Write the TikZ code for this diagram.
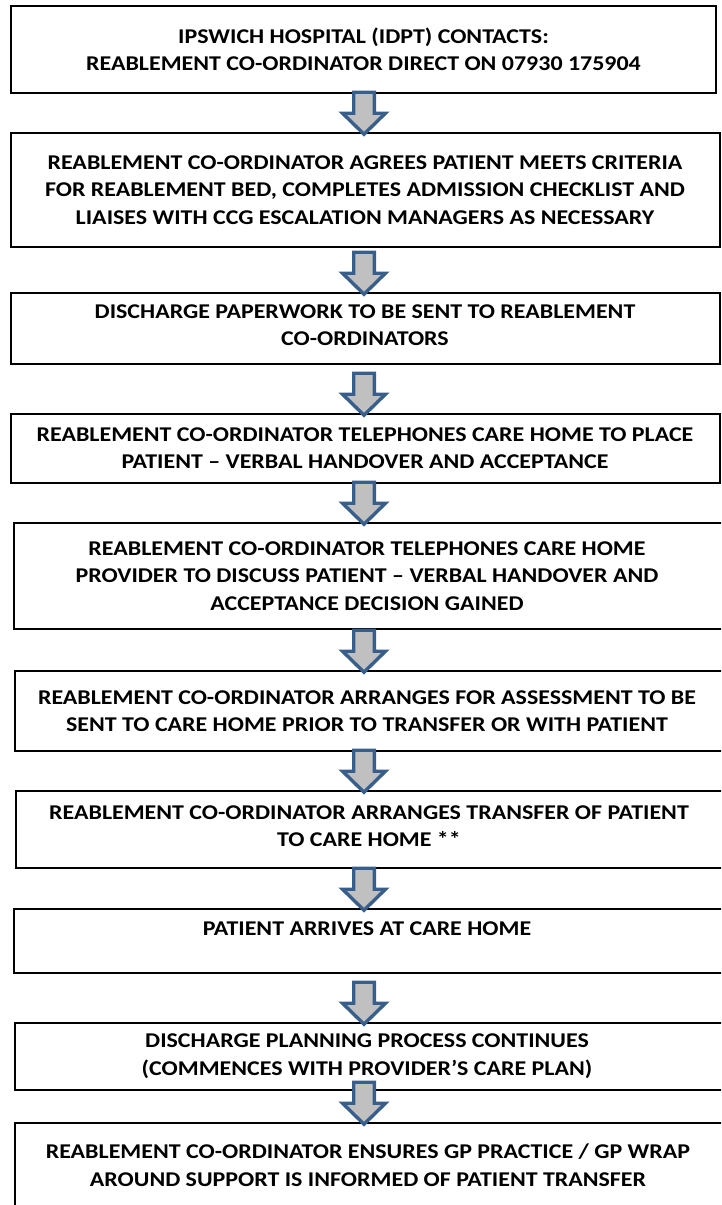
\documentclass[tikz,border=0pt]{standalone}
\usepackage{fontspec}
\setmainfont{Carlito}[FakeStretch=1.14]
\usetikzlibrary{calc}
\definecolor{arrblue}{RGB}{56,94,140}
\definecolor{arrfill}{RGB}{192,192,192}
\tikzset{
  flowbox/.style={draw=black, line width=1.6pt, rectangle, inner sep=0pt},
  flowtext/.style={align=center, font=\fontsize{21}{27.5}\selectfont\bfseries, inner sep=0pt},
  blockarr/.style={draw=arrblue, fill=arrfill, line width=3.4pt, line join=miter}
}
\newcommand{\blockarrow}[2]{%
  \path (#2.north -| ax) ++(0,2) coordinate (tip#2);
  \draw[blockarr] (tip#2) -- ++(-21.5,-21) -- ++(11.2,0) -- ++(0,-21) -- ++(20.6,0) -- ++(0,21) -- ++(11.2,0) -- cycle;
}
\begin{document}
\begin{tikzpicture}[x=1pt,y=-1pt]
\useasboundingbox (0,0) rectangle (721,1205);
\clip (0,0) rectangle (721,1205);
\coordinate (ax) at (364,0);
% boxes
\node[flowbox, minimum width=705pt, minimum height=87pt] (b1) at (363.5,49.5) {};
\node[flowbox, minimum width=709pt, minimum height=114pt] (b2) at (365.5,190) {};
\node[flowbox, minimum width=709pt, minimum height=71pt] (b3) at (365.5,328.5) {};
\node[flowbox, minimum width=709pt, minimum height=69pt] (b4) at (365.5,448.5) {};
\node[flowbox, minimum width=710pt, minimum height=106pt] (b5) at (369,576) {};
\node[flowbox, minimum width=710pt, minimum height=80pt] (b6) at (370,711) {};
\node[flowbox, minimum width=710pt, minimum height=77pt] (b7) at (371,829.5) {};
\node[flowbox, minimum width=710pt, minimum height=64pt] (b8) at (369,941) {};
\node[flowbox, minimum width=710pt, minimum height=67pt] (b9) at (370,1056.5) {};
\node[flowbox, minimum width=710pt, minimum height=89pt] (b10) at (370,1167.5) {};
% texts
\node[flowtext] (t1) at (363.5,49.5) {IPSWICH HOSPITAL (IDPT) CONTACTS:\\REABLEMENT CO-ORDINATOR DIRECT ON 07930 175904};
\node[flowtext] (t2) at (365,190) {REABLEMENT CO-ORDINATOR AGREES PATIENT MEETS CRITERIA\\FOR REABLEMENT BED, COMPLETES ADMISSION CHECKLIST AND\\LIAISES WITH CCG ESCALATION MANAGERS AS NECESSARY};
\node[flowtext] (t3) at (365,325) {DISCHARGE PAPERWORK TO BE SENT TO REABLEMENT\\CO-ORDINATORS};
\node[flowtext] (t4) at (365,448) {REABLEMENT CO-ORDINATOR TELEPHONES CARE HOME TO PLACE\\PATIENT – VERBAL HANDOVER AND ACCEPTANCE};
\node[flowtext] (t5) at (367,576) {REABLEMENT CO-ORDINATOR TELEPHONES CARE HOME\\PROVIDER TO DISCUSS PATIENT – VERBAL HANDOVER AND\\ACCEPTANCE DECISION GAINED};
\node[flowtext] (t6) at (367,711) {REABLEMENT CO-ORDINATOR ARRANGES FOR ASSESSMENT TO BE\\SENT TO CARE HOME PRIOR TO TRANSFER OR WITH PATIENT};
\node[flowtext] (t7) at (369,826) {REABLEMENT CO-ORDINATOR ARRANGES TRANSFER OF PATIENT\\TO CARE HOME **};
\node[flowtext] (t8) at (367,929) {PATIENT ARRIVES AT CARE HOME};
\node[flowtext] (t9) at (367,1056) {DISCHARGE PLANNING PROCESS CONTINUES\\(COMMENCES WITH PROVIDER’S CARE PLAN)};
\node[flowtext] (t10) at (368,1165) {REABLEMENT CO-ORDINATOR ENSURES GP PRACTICE / GP WRAP\\AROUND SUPPORT IS INFORMED OF PATIENT TRANSFER};
% arrows
\blockarrow{b1}{b2}
\blockarrow{b2}{b3}
\blockarrow{b3}{b4}
\blockarrow{b4}{b5}
\blockarrow{b5}{b6}
\blockarrow{b6}{b7}
\blockarrow{b7}{b8}
\blockarrow{b8}{b9}
\blockarrow{b9}{b10}
\end{tikzpicture}
\end{document}
